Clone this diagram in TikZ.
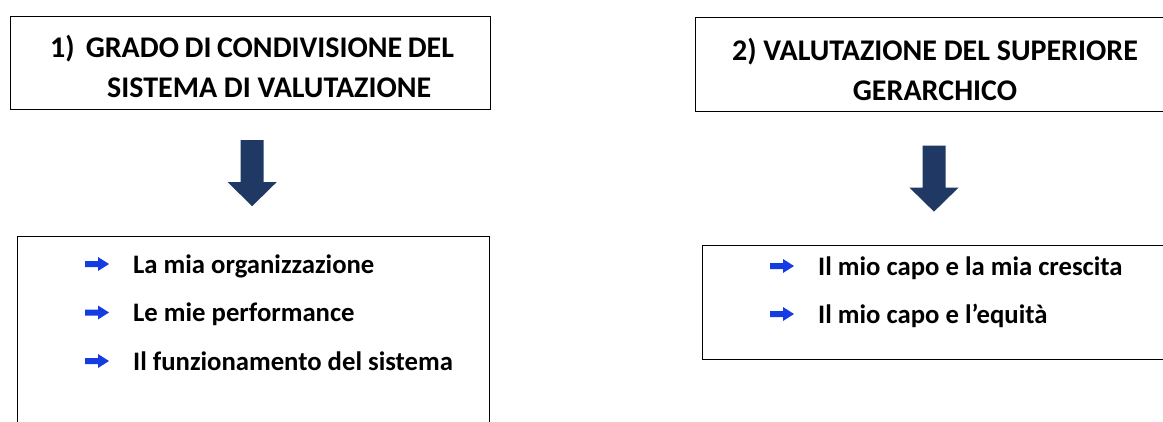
\documentclass[tikz,border=0pt]{standalone}
\usepackage{fontspec}
\setmainfont{Carlito}
\usetikzlibrary{positioning,calc}

\definecolor{navy}{RGB}{31,56,100}
\definecolor{bulletblue}{RGB}{20,60,225}

\tikzset{
  pics/downarrow/.style={code={
    \fill[navy] (-11.5,-33) -- (11.5,-33) -- (11.5,9) -- (24.5,9)
      -- (0,33) -- (-24.5,9) -- (-11.5,9) -- cycle;}},
  pics/bullet/.style={code={
    \fill[bulletblue] (0,-3) -- (13,-3) -- (13,-7) -- (24,0)
      -- (13,7) -- (13,3) -- (0,3) -- cycle;}}
}

\begin{document}
\begin{tikzpicture}
  [x=1pt,y=-1pt,
   box/.style={draw,line width=1.3pt,rectangle,anchor=north west,inner sep=0pt},
   head/.style={font=\bfseries\fontsize{30}{40}\selectfont,inner sep=0pt},
   item/.style={font=\bfseries\fontsize{26.7}{30}\selectfont,anchor=base west,inner sep=0pt}]
  \useasboundingbox (0,0) rectangle (1163,421);

  % boxes (right and bottom ones run off the page)
  \node[box,minimum width=480pt,minimum height=93pt] (b1) at (10,16) {};
  \node[box,minimum width=490pt,minimum height=94pt] (b2) at (695,17) {};
  \node[box,minimum width=472pt,minimum height=200pt] (b3) at (17,236) {};
  \node[box,minimum width=480pt,minimum height=114pt] (b4) at (702,245) {};

  % titles, placed by the baseline of their second line
  \node[head,anchor=base west,align=left] (t1) at (50,97)
    {1)\hspace{11pt}{\spaceskip=5.5pt GRADO DI CONDIVISIONE DEL}\\\hspace*{57pt}SISTEMA DI VALUTAZIONE};
  \node[head,anchor=base,align=center] (t2) at (935,100)
    {2) VALUTAZIONE DEL SUPERIORE\\GERARCHICO};

  % block arrows between the boxes
  \pic at ($(b1.south)!0.5!(b3.north)$) {downarrow};
  \path (b2.south west) -- ++(239,0) coordinate (b2s);
  \path (b4.north west) -- ++(232,0) coordinate (b4n);
  \pic at ($(b2s)!0.5!(b4n)$) {downarrow};

  % left list
  \foreach \t [count=\i] in {La mia organizzazione, Le mie performance,
      Il funzionamento del sistema}{
    \pic at (85,{273+48.5*(\i-1)-9}) {bullet};
    \node[item] (l\i) at (133,{273+48.5*(\i-1)}) {\t};
  }

  % right list
  \foreach \t [count=\i] in {Il mio capo e la mia crescita, Il mio capo e l’equità}{
    \pic at (770,{275+48*(\i-1)-9}) {bullet};
    \node[item] (r\i) at (818,{275+48*(\i-1)}) {\t};
  }
\end{tikzpicture}
\end{document}
